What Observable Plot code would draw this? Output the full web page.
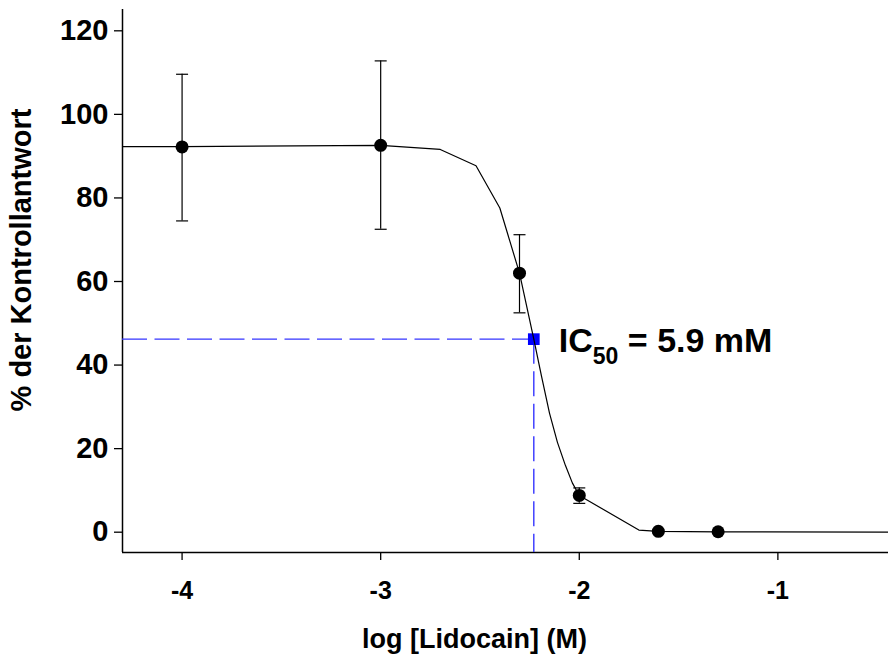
<!DOCTYPE html>
<html>
<head>
<meta charset="utf-8">
<script src="https://cdn.jsdelivr.net/npm/d3@7"></script>
<script src="https://cdn.jsdelivr.net/npm/@observablehq/plot@0.6"></script>
<style>
  html, body { margin: 0; padding: 0; background: white; }
</style>
</head>
<body>
<div id="chart"></div>
<script>
// ---- data ----
const logConc   = [-4, -3, -2.301, -2, -1.602, -1.301];
const response  = [92.2, 92.6, 62.0, 8.8, 0.2, 0.1];
const errHigh   = [109.6, 112.8, 71.2, 10.6, 0.5, 0.4];
const errLow    = [74.5, 72.5, 52.5, 6.9, -0.1, -0.2];

const fitX = [-4.3, -4, -3, -2.7, -2.52, -2.4, -2.301, -2.229, -2.19, -2.15, -2.11, -2.07, -2.035, -2, -1.7, -1.602, -1.301, -0.443];
const fitY = [92.3, 92.3, 92.6, 91.6, 87.7, 77.6, 62.0, 46.2, 37.3, 28.5, 21.5, 16.0, 11.8, 8.8, 0.5, 0.2, 0.1, 0.0];

const ic50Log = -2.229;
const ic50Response = 46.2;
const ic50Main = "IC";
const ic50Sub = "50";
const ic50Rest = " = 5.9 mM";

const xTicks = [-4, -3, -2, -1];
const yTicks = [0, 20, 40, 60, 80, 100, 120];
const xLabel = "log [Lidocain] (M)";
const yLabel = "% der Kontrollantwort";

const xDomain = [-4.3, -0.443];
const yDomain = [-4.86, 125.1];

// ---- tables built from the arrays ----
const rows = logConc.map((x, i) => ({x, y: response[i], lo: errLow[i], hi: errHigh[i]}));
const caps = rows.flatMap(d => [{x: d.x, y: d.lo}, {x: d.x, y: d.hi}]);
const fit = fitX.map((x, i) => ({x, y: fitY[i]}));
const ic50 = [{x: ic50Log, y: ic50Response}];
const fullLabel = ic50Main + ic50Sub + ic50Rest;

const capSymbol = {
  draw(ctx, size) {
    const w = Math.sqrt(size / Math.PI);
    ctx.moveTo(-w, 0);
    ctx.lineTo(w, 0);
  }
};

const dashColor = "#3535ff";

const chart = Plot.plot({
  width: 888,
  height: 655,
  marginLeft: 122,
  marginRight: 0,
  marginTop: 9,
  marginBottom: 103,
  x: {domain: xDomain},
  y: {domain: yDomain},
  style: {fontFamily: "'Liberation Sans', Arial, Helvetica, sans-serif", fontWeight: "bold", background: "white", color: "black"},
  marks: [
    Plot.axisY(yTicks, {tickSize: 8, tickPadding: 6, fontSize: 29, label: null, strokeWidth: 1.3}),
    Plot.axisX(xTicks, {tickSize: 8, tickPadding: 21, fontSize: 25, label: null, strokeWidth: 1.3, tickFormat: d => String(d)}),
    Plot.ruleX([xDomain[0]], {y1: yDomain[0], y2: yDomain[1], stroke: "black", strokeWidth: 1.5}),
    Plot.ruleY([yDomain[0]], {x1: xDomain[0], x2: xDomain[1], stroke: "black", strokeWidth: 1.5}),
    // IC50 guides
    Plot.ruleY(ic50, {y: "y", x1: xDomain[0], x2: "x", stroke: dashColor, strokeWidth: 1.4, strokeDasharray: "25,7.5"}),
    Plot.ruleX(ic50, {x: "x", y1: "y", y2: yDomain[0], stroke: dashColor, strokeWidth: 1.4, strokeDasharray: "25,7.5"}),
    Plot.dot(ic50, {x: "x", y: "y", symbol: "square", r: 6.6, fill: "#0000ff", stroke: null}),
    // error bars
    Plot.ruleX(rows, {x: "x", y1: "lo", y2: "hi", stroke: "black", strokeWidth: 1.2}),
    Plot.dot(caps, {x: "x", y: "y", symbol: capSymbol, r: 6, stroke: "black", strokeWidth: 1.2, fill: null}),
    // fitted curve
    Plot.line(fit, {x: "x", y: "y", stroke: "black", strokeWidth: 1.2}),
    // data points
    Plot.dot(rows, {x: "x", y: "y", r: 6.5, fill: "black", stroke: null}),
    // IC50 label
    Plot.text(ic50, {x: "x", y: "y", text: () => fullLabel, textAnchor: "start", dx: 25, dy: 2, fontSize: 34}),
    // axis titles
    Plot.text([yLabel], {text: d => d, frameAnchor: "left", textAnchor: "middle", rotate: -90, dx: -101, dy: -21, fontSize: 29}),
    Plot.text([xLabel], {text: d => d, frameAnchor: "bottom", textAnchor: "middle", dx: -31, dy: 95, lineAnchor: "bottom", fontSize: 27})
  ]
});

// subscript for IC50
chart.querySelectorAll("text").forEach(t => {
  if (t.textContent === fullLabel) {
    while (t.firstChild) t.removeChild(t.firstChild);
    const ns = "http://www.w3.org/2000/svg";
    const a = document.createElementNS(ns, "tspan"); a.textContent = ic50Main;
    const b = document.createElementNS(ns, "tspan"); b.textContent = ic50Sub;
    b.setAttribute("font-size", "23"); b.setAttribute("dy", "12");
    const c = document.createElementNS(ns, "tspan"); c.textContent = ic50Rest;
    c.setAttribute("dy", "-12");
    t.appendChild(a); t.appendChild(b); t.appendChild(c);
  }
});

document.getElementById("chart").appendChild(chart);
</script>
</body>
</html>
